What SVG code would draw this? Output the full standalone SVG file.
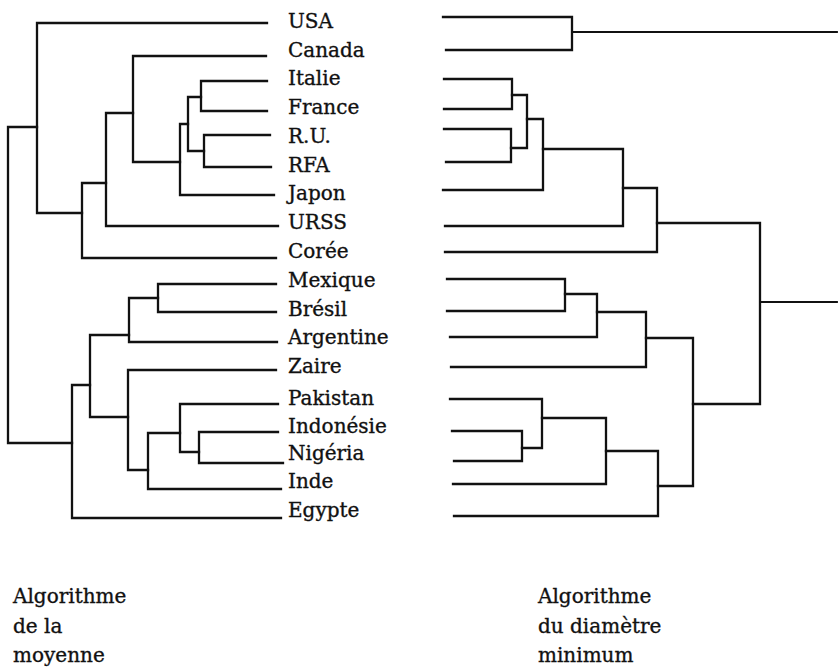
<svg xmlns="http://www.w3.org/2000/svg" width="838" height="668" viewBox="0 0 838 668">
<style>
.ln{fill:none;stroke:#111;stroke-width:2.3;stroke-linejoin:miter;stroke-linecap:square}
.lb{font-family:"DejaVu Serif","Liberation Serif",serif;font-size:20px;fill:#111;stroke:#111;stroke-width:0.35}
</style>
<rect width="838" height="668" fill="#fff"/>
<g id="connectors">
<g id="tree-moyenne" class="ln">
<path d="M267 23 H37 V213 H82"/>
<path d="M266 56 H133 V162 H180"/>
<path d="M267 81 H201 V111 H267"/>
<path d="M270 135 H204 V167 H271"/>
<path d="M201 97 H188 V151 H204"/>
<path d="M188 124 H180 V195 H274"/>
<path d="M133 113 H106 V226 H278"/>
<path d="M106 183 H82 V258 H276"/>
<path d="M37 127 H8 V443 H72"/>
<path d="M276 284 H158 V312 H276"/>
<path d="M158 298 H129 V342 H277"/>
<path d="M129 335 H90 V417 H128"/>
<path d="M278 432 H199 V463 H283"/>
<path d="M278 404 H180 V452 H199"/>
<path d="M180 433 H148 V489 H281"/>
<path d="M276 370 H128 V470 H148"/>
<path d="M90 385 H72 V518 H281"/>
</g>
<g id="tree-diametre" class="ln">
<path d="M443 17 H572 V50 H446"/>
<path d="M572 32 H837" style="stroke-width:1.8"/>
<path d="M444 79 H512 V109 H444"/>
<path d="M444 129 H511 V162 H446"/>
<path d="M512 95 H527 V148 H511"/>
<path d="M527 119 H543 V190 H443"/>
<path d="M543 149 H623 V226 H445"/>
<path d="M623 188 H657 V252 H445"/>
<path d="M657 223 H760 V404 H693"/>
<path d="M760 302 H837" style="stroke-width:1.8"/>
<path d="M447 279 H565 V311 H447"/>
<path d="M565 294 H597 V337 H450"/>
<path d="M597 312 H646 V367 H451"/>
<path d="M646 338 H693 V486 H658"/>
<path d="M452 431 H522 V461 H454"/>
<path d="M522 448 H542 V399 H450"/>
<path d="M542 418 H606 V484 H453"/>
<path d="M606 451 H658 V516 H454"/>
</g>
</g>
<g class="lb">
<g id="n-usa"><text x="288" y="28">USA</text></g>
<g id="n-canada"><text x="288" y="57">Canada</text></g>
<g id="n-italie"><text x="288" y="85">Italie</text></g>
<g id="n-france"><text x="288" y="114">France</text></g>
<g id="n-ru"><text x="288" y="143">R.U.</text></g>
<g id="n-rfa"><text x="288" y="172">RFA</text></g>
<g id="n-japon"><text x="288" y="200">Japon</text></g>
<g id="n-urss"><text x="288" y="229">URSS</text></g>
<g id="n-coree"><text x="288" y="258">Corée</text></g>
<g id="n-mexique"><text x="288" y="287">Mexique</text></g>
<g id="n-bresil"><text x="288" y="316">Brésil</text></g>
<g id="n-argentine"><text x="288" y="344">Argentine</text></g>
<g id="n-zaire"><text x="288" y="373">Zaire</text></g>
<g id="n-pakistan"><text x="288" y="405">Pakistan</text></g>
<g id="n-indonesie"><text x="288" y="433">Indonésie</text></g>
<g id="n-nigeria"><text x="288" y="460">Nigéria</text></g>
<g id="n-inde"><text x="288" y="488">Inde</text></g>
<g id="n-egypte"><text x="288" y="517">Egypte</text></g>
<g id="cap-moyenne"><text x="13" y="603">Algorithme</text><text x="13" y="633">de la</text><text x="13" y="662">moyenne</text></g>
<g id="cap-diametre"><text x="538" y="603">Algorithme</text><text x="538" y="633">du diamètre</text><text x="538" y="662">minimum</text></g>
</g>
</svg>
